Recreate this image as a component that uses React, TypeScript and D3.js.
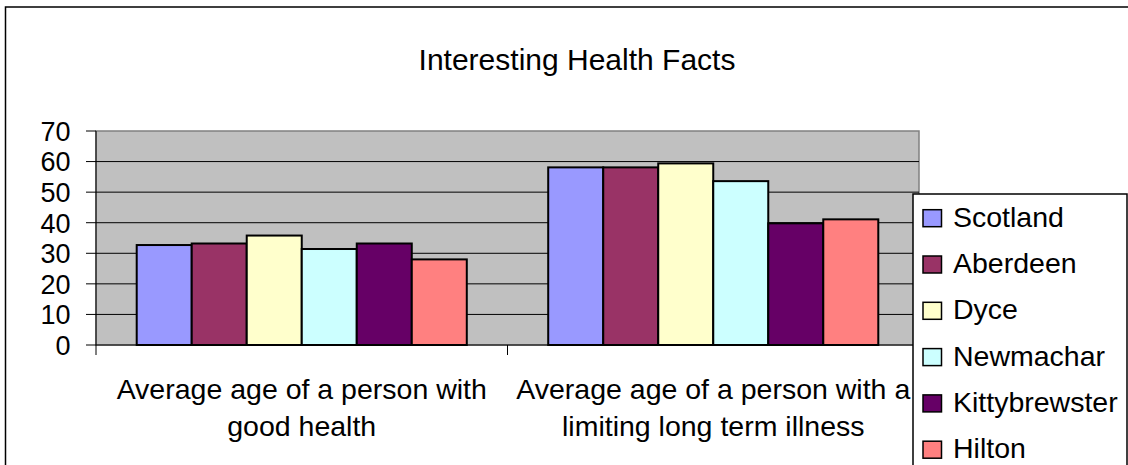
import React from "react";
import * as d3 from "d3";

const categoryLines: string[][] = [
  ["Average age of a person with", "good health"],
  ["Average age of a person with a", "limiting long term illness"],
];
const categories = ["good health", "limiting long term illness"];
const seriesNames = ["Scotland", "Aberdeen", "Dyce", "Newmachar", "Kittybrewster", "Hilton"];
const scotland = [32.7, 58.1];
const aberdeen = [33.2, 58.1];
const dyce = [35.8, 59.4];
const newmachar = [31.4, 53.6];
const kittybrewster = [33.2, 39.8];
const hilton = [28.0, 41.1];
const seriesValues = [scotland, aberdeen, dyce, newmachar, kittybrewster, hilton];
const seriesColors = ["#9999FF", "#993366", "#FFFFCC", "#CCFFFF", "#660066", "#FF8080"];
const yTicks = [0, 10, 20, 30, 40, 50, 60, 70];
const title = "Interesting Health Facts";

const W = 1128;
const H = 465;
const FONT = "'Liberation Sans', Arial, sans-serif";

export default function App() {
  const plotL = 96, plotR = 919, plotT = 131, plotB = 345;
  const x0 = d3.scaleBand<string>().domain(categories).range([plotL, plotR]).paddingInner(0).paddingOuter(0);
  const x1 = d3.scaleBand<string>().domain(seriesNames).range([0, x0.bandwidth()]).paddingInner(0).paddingOuter(0.74);
  const y = d3.scaleLinear().domain([0, 70]).range([plotB, plotT]);

  return (
    <svg width={W} height={H} style={{ position: "absolute", left: 0, top: 0, background: "#fff" }}>
      <rect x={5.5} y={7} width={W} height={H} fill="#fff" stroke="#000" strokeWidth={1.5} />
      <text x={577} y={70} textAnchor="middle" fontFamily={FONT} fontSize={30} fill="#000">
        {title}
      </text>
      {/* plot area */}
      <rect x={plotL} y={plotT} width={plotR - plotL} height={plotB - plotT} fill="#C0C0C0" stroke="#808080" strokeWidth={1.5} />
      {yTicks.filter((t) => t > 0 && t < 70).map((t) => (
        <line key={"g" + t} x1={plotL} x2={plotR} y1={y(t)} y2={y(t)} stroke="#000" strokeWidth={1} />
      ))}
      {/* axes */}
      <line x1={plotL} x2={plotL} y1={plotT} y2={plotB} stroke="#000" strokeWidth={1} />
      <line x1={plotL} x2={plotR} y1={plotB} y2={plotB} stroke="#000" strokeWidth={1} />
      {yTicks.map((t) => (
        <g key={"t" + t}>
          <line x1={plotL - 10} x2={plotL} y1={y(t)} y2={y(t)} stroke="#000" strokeWidth={1} />
          <text x={70.5} y={y(t) + 9.8} textAnchor="end" fontFamily={FONT} fontSize={27} fill="#000">
            {t}
          </text>
        </g>
      ))}
      {[...categories.map((c) => x0(c)!), plotR].map((xv, i) => (
        <line key={"xt" + i} x1={xv} x2={xv} y1={plotB} y2={plotB + 10} stroke="#000" strokeWidth={1} />
      ))}
      {/* bars */}
      {categories.map((c, ci) => (
        <g key={c}>
          {seriesNames.map((s, si) => {
            const v = seriesValues[si][ci];
            return (
              <rect
                key={s}
                x={x0(c)! + x1(s)!}
                y={y(v)}
                width={x1.bandwidth()}
                height={y(0) - y(v)}
                fill={seriesColors[si]}
                stroke="#000"
                strokeWidth={2}
              />
            );
          })}
        </g>
      ))}
      {/* category labels */}
      {categories.map((c, ci) => (
        <text key={"cl" + c} textAnchor="middle" fontFamily={FONT} fontSize={28.5} fill="#000">
          {categoryLines[ci].map((ln, li) => (
            <tspan key={li} x={x0(c)! + x0.bandwidth() / 2} y={399 + li * 37}>
              {ln}
            </tspan>
          ))}
        </text>
      ))}
      {/* legend */}
      <rect x={913} y={194} width={214} height={290} fill="#fff" stroke="#000" strokeWidth={1.5} />
      {seriesNames.map((s, i) => {
        const by = 226.7 + i * 46.3;
        return (
          <g key={"lg" + s}>
            <rect x={923} y={by - 17} width={18.5} height={17} fill={seriesColors[i]} stroke="#000" strokeWidth={1.5} />
            <text x={953} y={by} fontFamily={FONT} fontSize={28.5} fill="#000">
              {s}
            </text>
          </g>
        );
      })}
    </svg>
  );
}
